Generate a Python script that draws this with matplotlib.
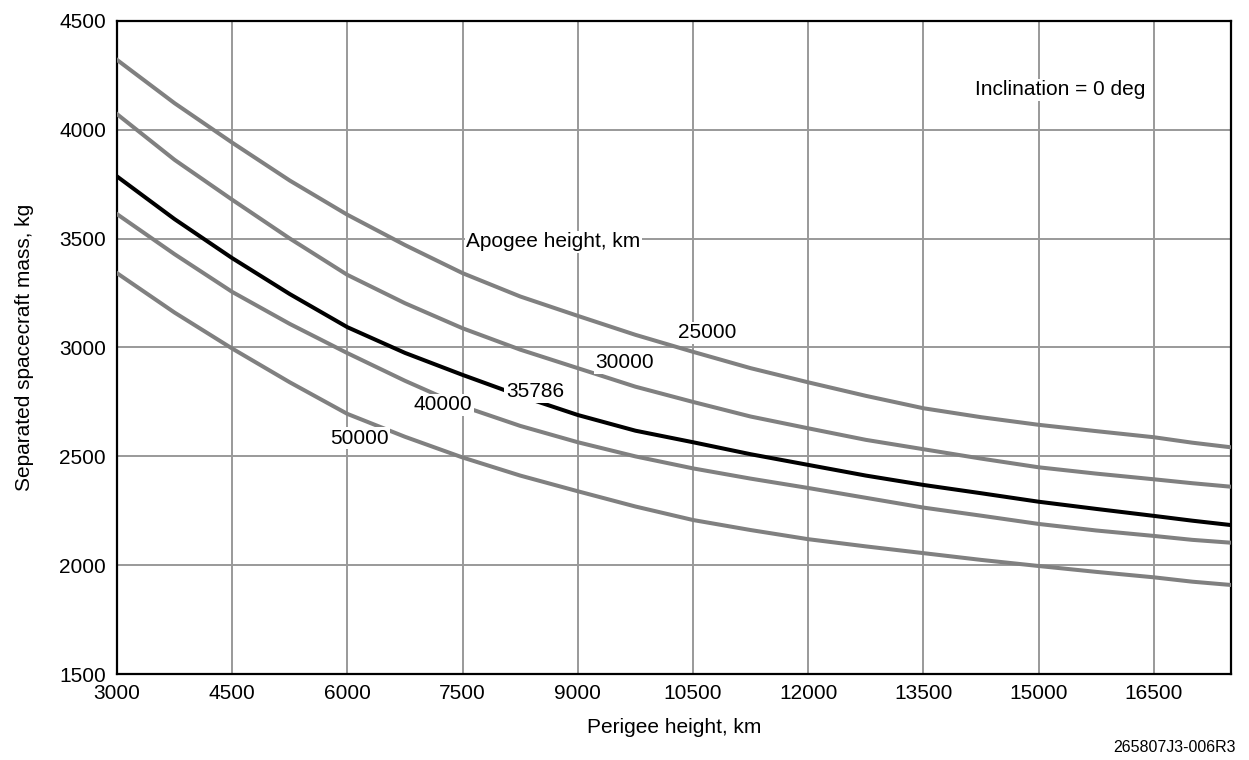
import matplotlib.pyplot as plt
import numpy as np

plt.rcParams['font.family'] = ['Liberation Sans', 'DejaVu Sans']

perigee = [3000, 3750, 4500, 5250, 6000, 6750, 7500, 8250, 9000, 9750, 10500,
           11250, 12000, 12750, 13500, 14250, 15000, 15750, 16500, 17000, 17500]
mass_25000 = [4320, 4121, 3940, 3766, 3609, 3470, 3341, 3234, 3145, 3058, 2980,
              2905, 2840, 2778, 2721, 2680, 2645, 2616, 2588, 2563, 2542]
mass_30000 = [4071, 3861, 3678, 3500, 3333, 3203, 3088, 2990, 2905, 2820, 2750,
              2683, 2629, 2576, 2533, 2490, 2450, 2421, 2395, 2377, 2361]
mass_35786 = [3785, 3589, 3410, 3245, 3093, 2975, 2874, 2778, 2690, 2618, 2565,
              2510, 2461, 2412, 2369, 2331, 2292, 2259, 2227, 2205, 2185]
mass_40000 = [3612, 3428, 3255, 3108, 2974, 2847, 2730, 2640, 2565, 2500, 2445,
              2398, 2355, 2310, 2265, 2228, 2190, 2160, 2135, 2117, 2104]
mass_50000 = [3341, 3160, 2995, 2840, 2695, 2590, 2495, 2412, 2340, 2270, 2208,
              2162, 2120, 2087, 2056, 2025, 1997, 1970, 1945, 1925, 1910]

apogee_labels = ['25000', '30000', '35786', '40000', '50000']
label_x = [10690, 9609, 8442, 7243, 6154]
label_y = [3067, 2929, 2797, 2736, 2583]

fig = plt.figure(figsize=(12.49, 7.6), dpi=100)
ax = fig.add_axes([0.0937, 0.1128, 0.8916, 0.86])

grey = '#808080'
ax.plot(perigee, mass_25000, color=grey, lw=2.9, zorder=3)
ax.plot(perigee, mass_30000, color=grey, lw=2.9, zorder=3)
ax.plot(perigee, mass_35786, color='black', lw=2.9, zorder=3)
ax.plot(perigee, mass_40000, color=grey, lw=2.9, zorder=3)
ax.plot(perigee, mass_50000, color=grey, lw=2.9, zorder=3)

fs = 15
box = dict(facecolor='white', edgecolor='none', pad=1)
for lab, lx, ly in zip(apogee_labels, label_x, label_y):
    ax.text(lx, ly, lab, fontsize=fs, ha='center', va='center', bbox=box, zorder=4)

ax.text(7549, 3485, 'Apogee height, km', fontsize=fs, ha='left', va='center', bbox=box, zorder=4)
ax.text(15278, 4183, 'Inclination = 0 deg', fontsize=fs, ha='center', va='center', bbox=box, zorder=4)

ax.set_xlim(3000, 17500)
ax.set_ylim(1500, 4500)
ax.set_xticks(np.arange(3000, 17000, 1500))
ax.set_yticks(np.arange(1500, 4600, 500))
ax.tick_params(length=0, labelsize=fs)
ax.tick_params(axis='x', pad=7)
ax.tick_params(axis='y', pad=8)
ax.grid(color='#999999', lw=1.4)
ax.set_axisbelow(True)
for s in ax.spines.values():
    s.set_linewidth(1.6)

ax.set_xlabel('Perigee height, km', fontsize=fs, labelpad=11)
ax.set_ylabel('Separated spacecraft mass, kg', fontsize=fs, labelpad=18)

fig.text(0.989, 0.016, '265807J3-006R3', fontsize=11.5, ha='right', va='center')

fig.savefig('out.png', dpi=100)
